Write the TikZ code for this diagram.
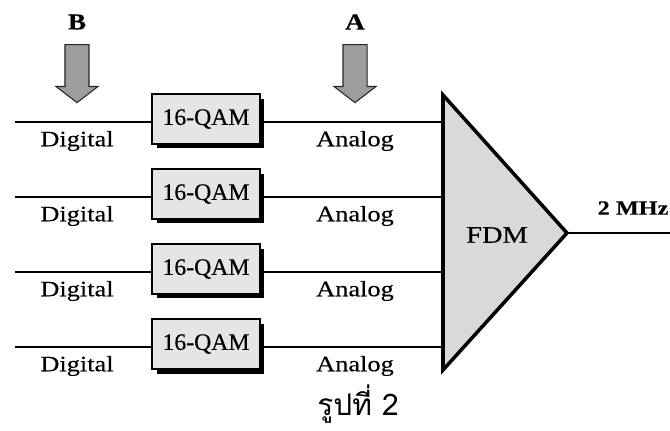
\documentclass[tikz,border=0pt]{standalone}
\usepackage{fontspec}
\setmainfont{Liberation Serif}[FakeStretch=1.2, FakeBold=0.3]
\newfontfamily\boxfont{Liberation Serif}[FakeBold=0.3]
\newfontfamily\thaifont[Script=Thai]{Loma}
\definecolor{boxgray}{gray}{0.9}
\definecolor{fdmgray}{gray}{0.85}
\definecolor{arrowgray}{gray}{0.62}
\usetikzlibrary{positioning, shapes.arrows, shadows}
\tikzset{
	qam/.style={rectangle, draw=black, fill=boxgray, line width=1.2pt, minimum width=2.16cm, minimum height=1.0cm, inner sep=0pt, font=\boxfont\fontsize{13.5}{15}\selectfont, drop shadow={shadow xshift=0.09cm, shadow yshift=-0.09cm, fill=black, opacity=1}},
	sig/.style={inner sep=0pt, font=\fontsize{12.5}{14}\selectfont},
	tag/.style={inner sep=0pt, font=\bfseries\fontsize{13}{15}\selectfont},
	pointer/.style={single arrow, draw=black!85, fill=arrowgray, line width=0.6pt, minimum height=1.16cm, single arrow head extend=0.18cm, single arrow tip angle=105, single arrow head indent=0pt, inner sep=0.23cm, shape border rotate=270},
	wire/.style={line width=1.5pt},
}
\begin{document}
\begin{tikzpicture}[x=0.02cm, y=-0.02cm]
		\useasboundingbox (0,0) rectangle (670,430);
		% FDM block
		\coordinate (ftop) at (443,95);
		\coordinate (fapex) at (567,233);
		\coordinate (fbot) at (443,370);
		\draw[line width=2pt, fill=fdmgray, line join=miter] (ftop) -- (fapex) -- (fbot) -- cycle;
		\node[font=\fontsize{13.5}{15}\selectfont] (fdm) at (497,235) {FDM};
		\coordinate (out) at (670,233);
		\draw[wire] (fapex) -- (out);
		\node[tag, font=\bfseries\fontsize{11.5}{13}\selectfont] (rate) at (633,208) {2 MHz};
		% pointers
		\node[pointer] (ptrB) at (77,69) {};
		\node[pointer] (ptrA) at (355,69) {};
		\node[tag] (labB) at (77,22) {B};
		\node[tag] (labA) at (355,22) {A};
		% row 1
		\coordinate (s1) at (15,122);
		\coordinate (in1) at (443,122);
		\node[qam] (q1) at (206,119) {16-QAM};
		\node[sig] (dig1) at (77,141) {Digital};
		\node[sig] (ana1) at (355,141) {Analog};
		\draw[wire] (s1) -- (q1.west |- s1);
		\draw[wire] (q1.east |- in1) -- (in1);
		% row 2
		\coordinate (s2) at (15,197);
		\coordinate (in2) at (443,197);
		\node[qam] (q2) at (206,194) {16-QAM};
		\node[sig] (dig2) at (77,216) {Digital};
		\node[sig] (ana2) at (355,216) {Analog};
		\draw[wire] (s2) -- (q2.west |- s2);
		\draw[wire] (q2.east |- in2) -- (in2);
		% row 3
		\coordinate (s3) at (15,272);
		\coordinate (in3) at (443,272);
		\node[qam] (q3) at (206,269) {16-QAM};
		\node[sig] (dig3) at (77,291) {Digital};
		\node[sig] (ana3) at (355,291) {Analog};
		\draw[wire] (s3) -- (q3.west |- s3);
		\draw[wire] (q3.east |- in3) -- (in3);
		% row 4
		\coordinate (s4) at (15,347);
		\coordinate (in4) at (443,347);
		\node[qam] (q4) at (206,344) {16-QAM};
		\node[sig] (dig4) at (77,366) {Digital};
		\node[sig] (ana4) at (355,366) {Analog};
		\draw[wire] (s4) -- (q4.west |- s4);
		\draw[wire] (q4.east |- in4) -- (in4);
		% caption
		\node[anchor=base, inner sep=0pt, font=\thaifont\fontsize{17}{20}\selectfont] (caption) at (358,415) {รูปที่ 2};
	\end{tikzpicture}
\end{document}
